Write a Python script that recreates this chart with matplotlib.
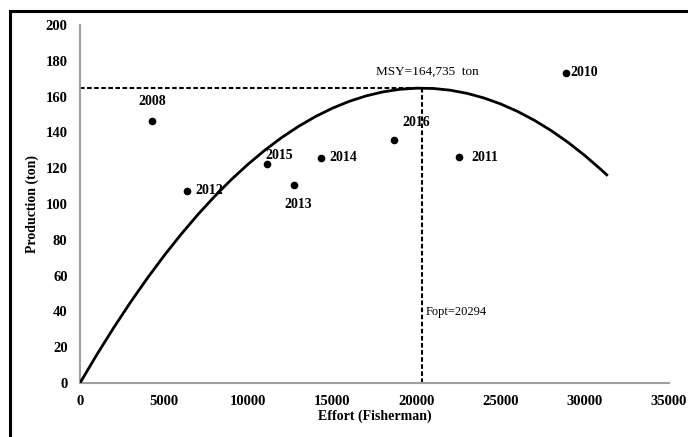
import matplotlib
matplotlib.use('Agg')
import matplotlib.pyplot as plt
from matplotlib.lines import Line2D

plt.rcParams['font.family'] = ['Liberation Serif', 'DejaVu Serif']

# Observed effort / production by year
years = ['2008', '2012', '2015', '2013', '2014', '2016', '2011', '2010']
effort = [4280, 6360, 11090, 12720, 14300, 18660, 22540, 28880]
production = [146.5, 107.3, 122.3, 110.6, 125.7, 135.7, 126.0, 173.4]

# Schaefer curve
curve_effort = [0, 1000, 2000, 3000, 4000, 5000, 6000, 7000, 8000, 9000,
                10000, 11000, 12000, 13000, 14000, 15000, 16000, 17000,
                18000, 19000, 20000, 21000, 22000, 23000, 24000, 25000,
                26000, 27000, 28000, 29000, 30000, 31000, 31300]
curve_prod = [0, 15.83, 30.87, 45.10, 58.54, 71.17, 83.01, 94.05, 104.28,
              113.72, 122.35, 130.19, 137.22, 143.45, 148.89, 153.53, 157.36,
              160.39, 162.63, 164.07, 164.70, 164.54, 163.57, 161.81, 159.24,
              155.88, 151.71, 146.75, 140.98, 134.42, 127.05, 118.89, 116.28]

msy = 164.735
fopt = 20294

# label offsets in points (dx, dy, ha)
offsets = {
    '2008': (0, 14, 'center'),
    '2012': (6, 0, 'left'),
    '2015': (-1, 6, 'left'),
    '2013': (3, -14, 'center'),
    '2014': (6, 0, 'left'),
    '2016': (16, 13, 'center'),
    '2011': (9, 0, 'left'),
    '2010': (3, 0, 'left'),
}

fig = plt.figure(figsize=(6.88, 4.37), dpi=100)
ax = fig.add_axes([0.1163, 0.1236, 0.8561, 0.8192])

ax.plot(curve_effort, curve_prod, color='black', lw=2, zorder=3)
ax.plot(effort, production, 'o', color='black', ms=4.5, zorder=4)

ax.plot([0, fopt], [msy, msy], color='black', lw=1.5, ls=(0, (2.2, 1.2)))
ax.plot([fopt, fopt], [0, msy], color='black', lw=1.5, ls=(0, (2.2, 1.2)))

for yr, x, y in zip(years, effort, production):
    dx, dy, ha = offsets[yr]
    ax.annotate(yr, (x, y), xytext=(dx, dy), textcoords='offset points',
                ha=ha, va='center', fontsize=10, fontweight='bold')

ax.text(17600, 174, 'MSY=164,735  ton', fontsize=9.5, ha='left', va='center')
ax.text(20550, 39.5, 'Fopt=20294', fontsize=9, ha='left', va='center')

ax.set_xlim(0, 35000)
ax.set_ylim(0, 200)
ax.set_xticks(range(0, 35001, 5000))
ax.set_yticks(range(0, 201, 20))
ax.tick_params(length=0, labelsize=10.5, pad=9)
for lbl in ax.get_xticklabels() + ax.get_yticklabels():
    lbl.set_fontweight('bold')

for side in ['top', 'right']:
    ax.spines[side].set_visible(False)
for side in ['left', 'bottom']:
    ax.spines[side].set_color('#a0a0a0')
    ax.spines[side].set_linewidth(1.5)

ax.set_xlabel('Effort (Fisherman)', fontsize=10, fontweight='bold', labelpad=1)
ax.set_ylabel('Production (ton)', fontsize=10, fontweight='bold', labelpad=5)

# outer frame (left and top only)
fig.add_artist(Line2D([9.5 / 688, 9.5 / 688], [0, 1 - 10.5 / 437],
                      color='black', lw=2.2, transform=fig.transFigure))
fig.add_artist(Line2D([9.5 / 688, 1], [1 - 10.5 / 437, 1 - 10.5 / 437],
                      color='black', lw=2.2, transform=fig.transFigure))

fig.savefig('out.png', dpi=100)
